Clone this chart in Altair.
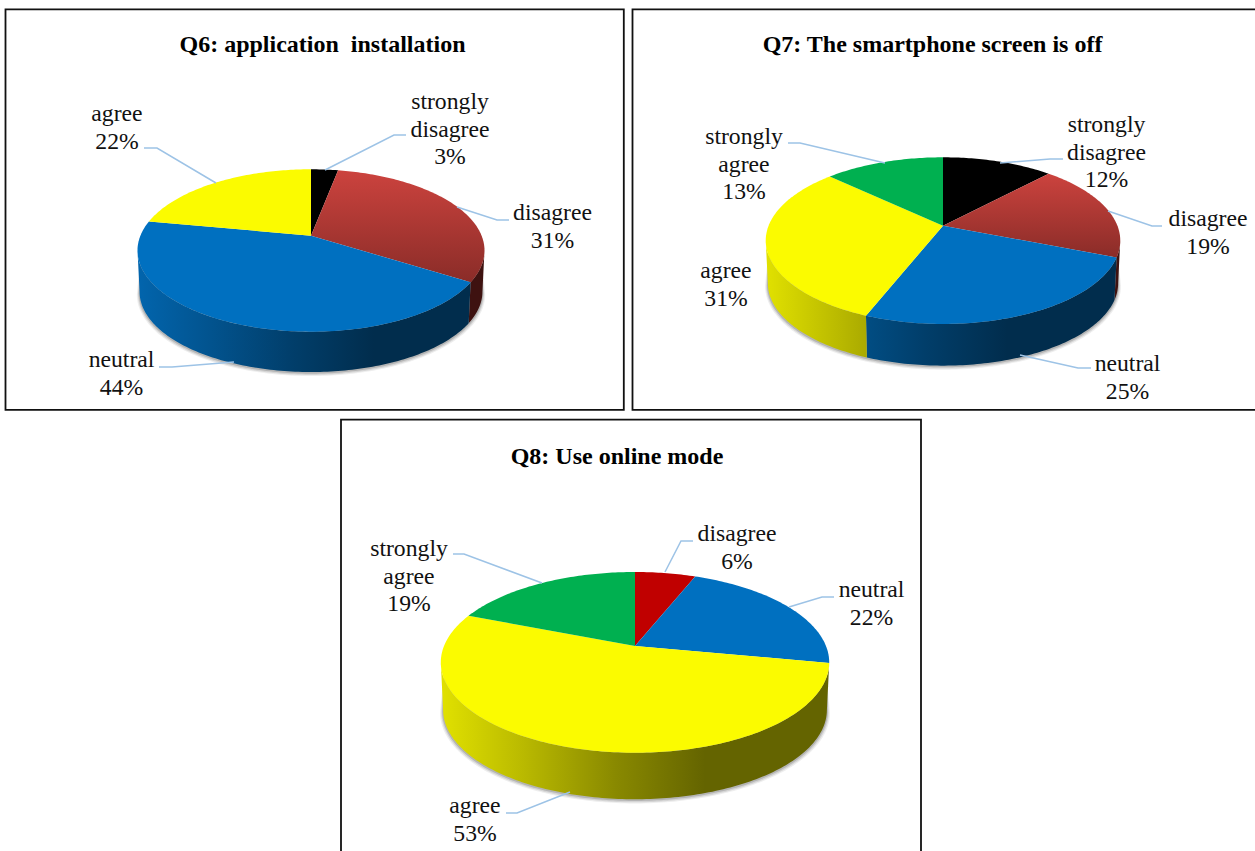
import math
import altair as alt
import pandas as pd

# Survey answers per question, clockwise from twelve o'clock
q6_categories = ["strongly disagree", "disagree", "neutral", "agree"]
q6_values = [3, 31, 44, 22]
q7_categories = ["strongly disagree", "disagree", "neutral", "agree", "strongly agree"]
q7_values = [12, 19, 25, 31, 13]
q8_categories = ["disagree", "neutral", "agree", "strongly agree"]
q8_values = [6, 22, 53, 19]

# Face colour for each answer: flat colour, or (top, bottom) for a vertical blend
FACE = {
    "strongly disagree": "#000000",
    "disagree": ("#cc433e", "#8a2c28"),
    "neutral": "#0070c0",
    "agree": "#fbfb00",
    "strongly agree": "#00b050",
}
WALL_BASE = {
    "strongly disagree": (0, 0, 0),
    "disagree": (155, 45, 40),
    "neutral": (2, 112, 192),
    "agree": (250, 250, 0),
    "strongly agree": (0, 176, 80),
}
# Brightness of the pie's side wall across its width
WALL_SHADE = [(0.0, 0.90), (0.2, 0.75), (0.45, 0.55), (0.68, 0.40), (1.0, 0.40)]

# Panel layout: frame, title, pie projection and label placement
PANELS = [
    dict(
        title="Q6: application\u00a0 installation", title_xy=(322.5, 52),
        frame=(5.5, 9.3, 623.8, 409.8),
        categories=q6_categories, values=q6_values,
        cx=311, ay=235.7, a=170.6, b=78.5, k=0.182, drop=41.5,
        labels=[(450, 109), (552.5, 220), (121.5, 367), (117, 121)],
        leaders=[
            [(406, 135), (394, 135), (325, 170)],
            [(509, 220), (497, 220), (457, 207)],
            [(159, 367), (172, 367), (234, 362)],
            [(144, 148), (157, 148), (216, 183)],
        ],
    ),
    dict(
        title="Q7: The smartphone screen is off", title_xy=(932.5, 52),
        frame=(632.5, 9.3, 1262, 409.8),
        categories=q7_categories, values=q7_values,
        cx=943, ay=225.7, a=174.4, b=80.65, k=0.179, drop=42.9,
        labels=[(1106.5, 132), (1208, 226), (1127.5, 371), (726, 278), (744, 144)],
        leaders=[
            [(1063, 159), (1050, 159), (1000, 163)],
            [(1162, 226), (1152, 226), (1108, 211)],
            [(1091, 368), (1078, 368), (1020, 355)],
            [(788, 143), (800, 143), (885, 163)],
        ],
    ),
    dict(
        title="Q8: Use online mode", title_xy=(617, 464),
        frame=(341, 419.7, 921, 870),
        categories=q8_categories, values=q8_values,
        cx=635, ay=646, a=191, b=87.4, k=0.181, drop=47.8,
        labels=[(737, 541), (871.5, 597), (475, 813), (409, 556)],
        leaders=[
            [(693, 541), (681, 541), (665, 572)],
            [(834, 597), (822, 597), (789, 607)],
            [(506, 813), (517, 813), (570, 792)],
            [(453, 554), (464, 554), (542, 583)],
        ],
    ),
]

WIDTH, HEIGHT = 1255, 851
FLOOR_SCALE = 0.988
LINE_STEP = 27.5
SERIF = "Liberation Serif"

x_enc = alt.X("x:Q", scale=alt.Scale(domain=[0, WIDTH], range=[0, WIDTH]), axis=None)
y_enc = alt.Y("y:Q", scale=alt.Scale(domain=[0, HEIGHT], range=[0, HEIGHT]), axis=None)


def rim_point(p, frac, scale=1.0, drop=0.0):
    """Perspective projection of a point on the pie's rim, frac turns clockwise from the top."""
    t = 2 * math.pi * frac
    u, v = math.sin(t), -math.cos(t)
    d = 1 - p["k"] * v
    return p["cx"] + scale * p["a"] * u / d, p["ay"] + drop + scale * p["b"] * v / d


def arc_points(p, f0, f1, scale=1.0, drop=0.0):
    n = max(2, int(abs(f1 - f0) * 360))
    return [rim_point(p, f0 + (f1 - f0) * i / n, scale, drop) for i in range(n + 1)]


def front_span(p):
    """Turn fractions of the rim's right and left extremes; the wall shows between them."""
    t = math.acos(-p["k"]) / (2 * math.pi)
    return t, 1 - t


def frame_of(points):
    return pd.DataFrame(
        [{"x": x, "y": y, "i": i} for i, (x, y) in enumerate(points)]
    )


def polygon(points, fill, opacity=1.0):
    return (
        alt.Chart(frame_of(points))
        .mark_line(interpolate="linear", fill=fill, stroke="transparent",
                   strokeWidth=0, opacity=opacity)
        .encode(x=x_enc, y=y_enc, order="i:Q")
    )


def hex_of(rgb):
    return "#%02x%02x%02x" % tuple(int(round(c)) for c in rgb)


def wall_gradient(p, base, points):
    """Horizontal blend whose stops follow WALL_SHADE across the whole pie width."""
    left, right = p["cx"] - p["a"] * 1.02, p["cx"] + p["a"] * 1.02
    xs = [pt[0] for pt in points]
    x0, x1 = min(xs), max(xs)

    def shade_at(f):
        for (f0, s0), (f1, s1) in zip(WALL_SHADE, WALL_SHADE[1:]):
            if f <= f1:
                return s0 + (s1 - s0) * (f - f0) / (f1 - f0)
        return WALL_SHADE[-1][1]

    marks = [x0] + [left + f * (right - left) for f, _ in WALL_SHADE if x0 < left + f * (right - left) < x1] + [x1]
    stops = []
    for m in marks:
        f = min(1.0, max(0.0, (m - left) / (right - left)))
        s = shade_at(f)
        stops.append(
            alt.GradientStop(
                color=hex_of([c * s for c in base]),
                offset=(m - x0) / max(x1 - x0, 1e-6),
            )
        )
    return alt.LinearGradient(gradient="linear", stops=stops, x1=0, x2=1, y1=0, y2=0)


def face_fill(category):
    face = FACE[category]
    if isinstance(face, tuple):
        return alt.LinearGradient(
            gradient="linear",
            stops=[
                alt.GradientStop(color=face[0], offset=0),
                alt.GradientStop(color=face[1], offset=1),
            ],
            x1=0, x2=0, y1=0, y2=1,
        )
    return face


def panel_layers(p):
    layers = []
    front_start, front_end = front_span(p)

    # Soft contact shadow hugging the lower edge of the wall
    for grow, lift, alpha in [(1.016, 2.5, 0.10), (1.010, 2.0, 0.16), (1.005, 1.2, 0.25)]:
        ring = arc_points(p, front_start, front_end, FLOOR_SCALE * grow, p["drop"] + lift)
        ring += arc_points(p, front_end, front_start, 0.98, 0)
        ring.append(ring[0])
        layers.append(polygon(ring, "#555555", opacity=alpha))

    total = sum(p["values"])
    acc = 0
    spans = []
    for cat, val in zip(p["categories"], p["values"]):
        spans.append((cat, acc / total, (acc + val) / total))
        acc += val

    # Side walls: only the part of each slice facing the viewer
    for cat, f0, f1 in spans:
        w0, w1 = max(f0, front_start), min(f1, front_end)
        if w1 <= w0:
            continue
        pts = arc_points(p, w0, w1) + arc_points(p, w1, w0, FLOOR_SCALE, p["drop"])
        pts.append(pts[0])
        layers.append(polygon(pts, wall_gradient(p, WALL_BASE[cat], pts)))

    # Top faces
    for cat, f0, f1 in spans:
        pts = [(p["cx"], p["ay"])] + arc_points(p, f0, f1) + [(p["cx"], p["ay"])]
        fill = face_fill(cat)
        if cat == "disagree" and p["title"].startswith("Q8"):
            fill = "#c00000"
        layers.append(polygon(pts, fill))

    # Leader lines
    for line in p["leaders"]:
        layers.append(
            alt.Chart(frame_of(line))
            .mark_line(stroke="#9dc3e6", strokeWidth=1.5, interpolate="linear")
            .encode(x=x_enc, y=y_enc, order="i:Q")
        )
    return layers


def label_rows():
    rows = []
    for p in PANELS:
        for cat, val, (lx, ly) in zip(p["categories"], p["values"], p["labels"]):
            for n, text in enumerate(cat.split(" ") + [f"{val}%"]):
                rows.append({"x": lx, "y": ly + n * LINE_STEP, "text": text})
    return pd.DataFrame(rows)


frames = pd.DataFrame(
    [dict(zip(["x", "y", "x2", "y2"], p["frame"])) for p in PANELS]
)
titles = pd.DataFrame(
    [{"x": p["title_xy"][0], "y": p["title_xy"][1], "text": p["title"]} for p in PANELS]
)

frame_layer = (
    alt.Chart(frames)
    .mark_rect(fill="white", stroke="#111111", strokeWidth=1.8)
    .encode(x=x_enc, y=y_enc, x2="x2:Q", y2="y2:Q")
)
title_layer = (
    alt.Chart(titles)
    .mark_text(font=SERIF, fontSize=24, fontWeight="bold", color="#000000",
               align="center", baseline="alphabetic")
    .encode(x=x_enc, y=y_enc, text="text:N")
)
label_layer = (
    alt.Chart(label_rows())
    .mark_text(font=SERIF, fontSize=23.7, color="#111111",
               align="center", baseline="alphabetic")
    .encode(x=x_enc, y=y_enc, text="text:N")
)

layers = [frame_layer]
for p in PANELS:
    layers.extend(panel_layers(p))
layers.extend([title_layer, label_layer])

chart = (
    alt.layer(*layers)
    .properties(width=WIDTH, height=HEIGHT, padding=0, background="white",
                autosize=alt.AutoSizeParams(type="none"))
    .configure_view(stroke=None)
)

chart.save("out.html", embed_options={"renderer": "svg", "actions": False})
